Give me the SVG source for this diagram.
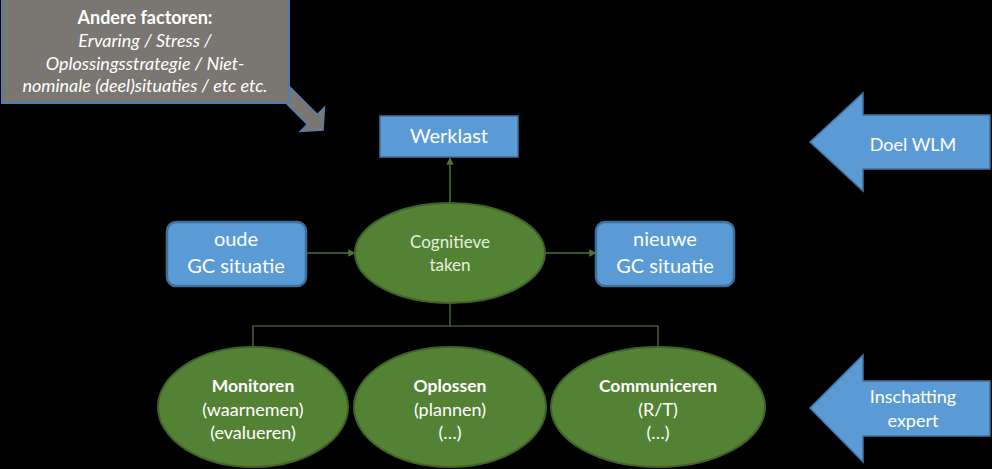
<svg xmlns="http://www.w3.org/2000/svg" width="992" height="469" viewBox="0 0 992 469">
  <defs>
    <style>
      text { font-family: Lato, "Open Sans", "Liberation Sans", sans-serif; text-anchor: middle; }
      .blue { fill: #5b9bd5; stroke: #41719c; stroke-width: 1.5; }
      .rbox { fill: #5b9bd5; stroke: #3d6f9f; stroke-width: 2.5; }
      .ell { fill: #548235; stroke: #3f6327; stroke-width: 2; }
      .conn { fill: none; stroke: #4e7236; stroke-width: 1.5; }
      .tree { fill: none; stroke: #5c7a4c; stroke-width: 1.2; }
      .wt { fill: #ffffff; }
      .gt { fill: #e6efdc; }
    </style>
    <marker id="ah" viewBox="0 0 10 10" refX="9" refY="5" markerWidth="5" markerHeight="5" orient="auto" markerUnits="strokeWidth">
      <path d="M0,0 L10,5 L0,10 z" fill="#4e7236"/>
    </marker>
  </defs>
  <rect width="992" height="469" fill="#000000"/>

  <g id="connectors">
    <line class="conn" x1="450" y1="203" x2="450" y2="158" marker-end="url(#ah)"/>
    <line class="conn" x1="306" y1="253" x2="355" y2="253" marker-end="url(#ah)"/>
    <line class="conn" x1="544" y1="253" x2="596" y2="253" marker-end="url(#ah)"/>
    <path class="tree" d="M450,302 V326 M253,347 V326 H658 V347"/>
  </g>

  <g id="andere-factoren">
    <polygon transform="translate(291.2,98.2) rotate(45)" points="-12,-7 30,-7 30,-17 45,0 30,17 30,7 -12,7" fill="#7a7672" stroke="#5a7fae" stroke-width="1.5"/>
    <rect x="2" y="-2" width="287" height="105" fill="#7a7672" stroke="#4f7cb3" stroke-width="2"/>
    <text x="145" y="24" font-size="18" font-weight="bold" class="wt">Andere factoren:</text>
    <text x="145" y="47" font-size="18" font-style="italic" class="wt">Ervaring / Stress /</text>
    <text x="145" y="70" font-size="18" font-style="italic" class="wt">Oplossingsstrategie / Niet-</text>
    <text x="145" y="92" font-size="18" font-style="italic" class="wt">nominale (deel)situaties / etc etc.</text>
  </g>

  <g id="werklast">
    <rect class="blue" x="380" y="116" width="138" height="41"/>
    <text x="449" y="143" font-size="20" class="wt">Werklast</text>
  </g>

  <g id="oude">
    <rect class="rbox" x="167" y="222" width="139" height="64" rx="9"/>
    <text x="236" y="246" font-size="20" class="wt">oude</text>
    <text x="236" y="273" font-size="20" class="wt">GC situatie</text>
  </g>

  <g id="cognitieve">
    <ellipse class="ell" cx="450" cy="253" rx="95" ry="50"/>
    <text x="450" y="248" font-size="17" class="gt">Cognitieve</text>
    <text x="450" y="271" font-size="17" class="gt">taken</text>
  </g>

  <g id="nieuwe">
    <rect class="rbox" x="596" y="222" width="138" height="64" rx="9"/>
    <text x="665" y="246" font-size="20" class="wt">nieuwe</text>
    <text x="665" y="273" font-size="20" class="wt">GC situatie</text>
  </g>

  <g id="monitoren">
    <ellipse class="ell" cx="253" cy="407" rx="95" ry="60"/>
    <text x="253" y="392" font-size="17.5" font-weight="bold" class="wt">Monitoren</text>
    <text x="253" y="416" font-size="18" class="wt">(waarnemen)</text>
    <text x="253" y="439" font-size="18" class="wt">(evalueren)</text>
  </g>

  <g id="oplossen">
    <ellipse class="ell" cx="450" cy="407" rx="96" ry="60"/>
    <text x="450" y="392" font-size="17.5" font-weight="bold" class="wt">Oplossen</text>
    <text x="450" y="416" font-size="18" class="wt">(plannen)</text>
    <text x="450" y="439" font-size="18" class="wt">(…)</text>
  </g>

  <g id="communiceren">
    <ellipse class="ell" cx="658" cy="407" rx="107" ry="60"/>
    <text x="658" y="392" font-size="17.5" font-weight="bold" class="wt">Communiceren</text>
    <text x="658" y="416" font-size="18" class="wt">(R/T)</text>
    <text x="658" y="439" font-size="18" class="wt">(…)</text>
  </g>

  <g id="doel-wlm">
    <polygon class="blue" points="810,142 863,93 863,115 990,115 990,169 863,169 863,191"/>
    <text x="913" y="151" font-size="18" class="wt">Doel WLM</text>
  </g>

  <g id="inschatting-expert">
    <polygon class="blue" points="810,408 863,355 863,381 990,381 990,436 863,436 863,462"/>
    <text x="913" y="403" font-size="18" class="wt">Inschatting</text>
    <text x="913" y="427" font-size="18" class="wt">expert</text>
  </g>
</svg>
